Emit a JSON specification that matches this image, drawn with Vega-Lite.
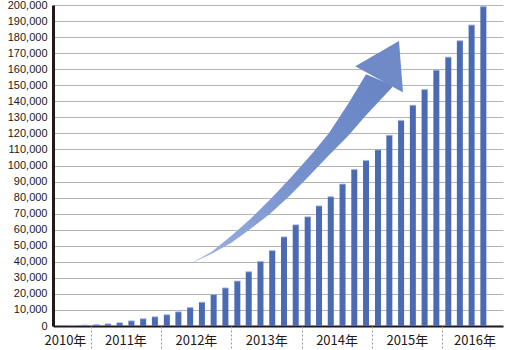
{
  "$schema": "https://vega.github.io/schema/vega-lite/v6.json",
  "width": 450,
  "height": 321,
  "autosize": "none",
  "padding": {"left": 53, "top": 5, "right": 3, "bottom": 24},
  "background": "white",
  "config": {
    "view": {"stroke": null},
    "axisY": {
      "title": null,
      "tickCount": 20,
      "format": ",d",
      "ticks": false,
      "grid": true,
      "gridColor": "#b4b4b4",
      "gridWidth": 1,
      "domainColor": "#231815",
      "domainWidth": 3,
      "labelColor": "#231815",
      "labelFont": "Liberation Sans",
      "labelFontSize": 11,
      "labelPadding": 6,
      "labelOverlap": false
    }
  },
  "datasets": {
    "bars": [
      {"date": "2010-10-01", "count": 400},
      {"date": "2010-12-01", "count": 600},
      {"date": "2011-02-01", "count": 800},
      {"date": "2011-04-01", "count": 1300},
      {"date": "2011-06-01", "count": 2000},
      {"date": "2011-08-01", "count": 3200},
      {"date": "2011-10-01", "count": 4500},
      {"date": "2011-12-01", "count": 5700},
      {"date": "2012-02-01", "count": 7000},
      {"date": "2012-04-01", "count": 8800},
      {"date": "2012-06-01", "count": 11500},
      {"date": "2012-08-01", "count": 14800},
      {"date": "2012-10-01", "count": 19600},
      {"date": "2012-12-01", "count": 23700},
      {"date": "2013-02-01", "count": 28000},
      {"date": "2013-04-01", "count": 33800},
      {"date": "2013-06-01", "count": 40200},
      {"date": "2013-08-01", "count": 47000},
      {"date": "2013-10-01", "count": 55500},
      {"date": "2013-12-01", "count": 63000},
      {"date": "2014-02-01", "count": 68000},
      {"date": "2014-04-01", "count": 74800},
      {"date": "2014-06-01", "count": 80500},
      {"date": "2014-08-01", "count": 88400},
      {"date": "2014-10-01", "count": 97500},
      {"date": "2014-12-01", "count": 103100},
      {"date": "2015-02-01", "count": 109800},
      {"date": "2015-04-01", "count": 118800},
      {"date": "2015-06-01", "count": 128100},
      {"date": "2015-08-01", "count": 137500},
      {"date": "2015-10-01", "count": 147300},
      {"date": "2015-12-01", "count": 159400},
      {"date": "2016-02-01", "count": 167500},
      {"date": "2016-04-01", "count": 177700},
      {"date": "2016-06-01", "count": 187500},
      {"date": "2016-08-01", "count": 199000}
    ],
    "shaft": [
      {"date": "2012-06-01", "hi": 38750, "lo": 38750},
      {"date": "2012-09-21", "hi": 46250, "lo": 45000},
      {"date": "2013-01-01", "hi": 56250, "lo": 51875},
      {"date": "2013-04-11", "hi": 66875, "lo": 60625},
      {"date": "2013-07-21", "hi": 78750, "lo": 70000},
      {"date": "2013-11-01", "hi": 91875, "lo": 81250},
      {"date": "2014-02-11", "hi": 105625, "lo": 93750},
      {"date": "2014-05-21", "hi": 120000, "lo": 106250},
      {"date": "2014-09-01", "hi": 138750, "lo": 118750},
      {"date": "2014-12-01", "hi": 156875, "lo": 131250},
      {"date": "2015-04-16", "hi": 150000, "lo": 148750}
    ],
    "head": [
      {"date": "2014-10-06", "hi": 161875, "lo": 161875},
      {"date": "2015-05-21", "hi": 177500, "lo": 146940},
      {"date": "2015-06-11", "hi": 145625, "lo": 145625}
    ]
  },
  "layer": [
    {
      "data": {"name": "bars"},
      "mark": {"type": "bar", "width": 6, "color": "#4a6bb2"},
      "encoding": {
        "x": {
          "field": "date",
          "type": "temporal",
          "scale": {"type": "utc", "domain": [{"year": 2010, "month": 7, "date": 16, "utc": true}, {"year": 2016, "month": 10, "date": 16, "utc": true}]},
          "axis": {
            "orient": "bottom",
            "title": null,
            "values": [
              {"year": 2010, "month": 8, "date": 21, "utc": true},
              {"year": 2011, "month": 7, "date": 1, "utc": true},
              {"year": 2012, "month": 7, "date": 1, "utc": true},
              {"year": 2013, "month": 7, "date": 1, "utc": true},
              {"year": 2014, "month": 7, "date": 1, "utc": true},
              {"year": 2015, "month": 7, "date": 1, "utc": true},
              {"year": 2016, "month": 6, "date": 16, "utc": true}
            ],
            "labelExpr": "utcFormat(datum.value, '%Y') + '年'",
            "ticks": false,
            "grid": false,
            "domainColor": "#231815",
            "domainWidth": 2,
            "labelColor": "#231815",
            "labelFont": "Noto Sans CJK JP",
            "labelFontSize": 13,
            "labelPadding": 8,
            "labelFlush": false,
            "labelOverlap": false
          }
        },
        "y": {
          "field": "count",
          "type": "quantitative",
          "scale": {"domain": [0, 200000], "nice": false}
        }
      }
    },
    {
      "data": {"name": "bars"},
      "mark": {"type": "tick", "orient": "horizontal", "size": 6, "thickness": 1.2, "color": "#a3b3dd"},
      "encoding": {
        "x": {"field": "date", "type": "temporal", "axis": null},
        "y": {"field": "count", "type": "quantitative"}
      }
    },
    {
      "data": {"name": "shaft"},
      "mark": {
        "type": "area",
        "color": {
          "gradient": "linear",
          "x1": 0, "y1": 1, "x2": 1, "y2": 0,
          "stops": [
            {"offset": 0, "color": "#a0b2e2"},
            {"offset": 0.5, "color": "#7590cc"},
            {"offset": 1, "color": "#6884c4"}
          ]
        }
      },
      "encoding": {
        "x": {
          "field": "date",
          "type": "temporal",
          "axis": {
            "orient": "bottom",
            "title": null,
            "values": [
              {"year": 2011, "month": 1, "date": 1, "utc": true},
              {"year": 2012, "month": 1, "date": 1, "utc": true},
              {"year": 2013, "month": 1, "date": 1, "utc": true},
              {"year": 2014, "month": 1, "date": 1, "utc": true},
              {"year": 2015, "month": 1, "date": 1, "utc": true},
              {"year": 2016, "month": 1, "date": 1, "utc": true}
            ],
            "labels": false,
            "domain": false,
            "grid": false,
            "ticks": true,
            "tickSize": 24,
            "tickDash": [2, 2],
            "tickColor": "#9a9a9a",
            "tickWidth": 1
          }
        },
        "y": {"field": "hi", "type": "quantitative"},
        "y2": {"field": "lo"}
      }
    },
    {
      "data": {"name": "head"},
      "mark": {"type": "area", "color": "#6f8ac7"},
      "encoding": {
        "x": {"field": "date", "type": "temporal", "axis": null},
        "y": {"field": "hi", "type": "quantitative"},
        "y2": {"field": "lo"}
      }
    }
  ],
  "resolve": {"axis": {"x": "independent"}}
}
